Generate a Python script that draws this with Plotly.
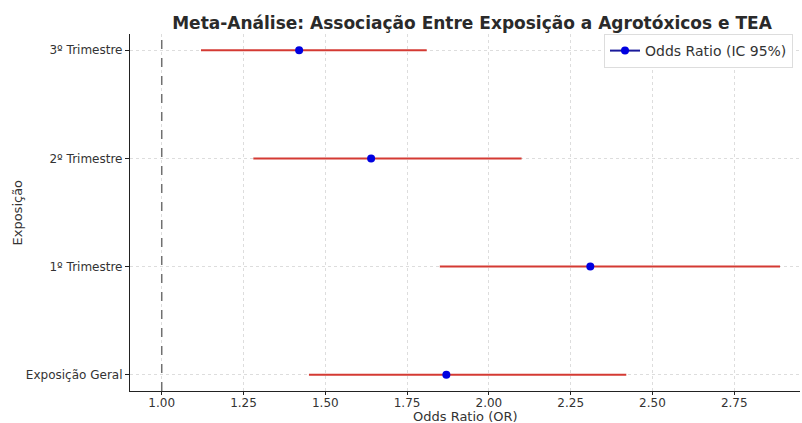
import plotly.graph_objects as go

categories = ["Exposição Geral", "1º Trimestre", "2º Trimestre", "3º Trimestre"]
odds_ratio = [1.87, 2.31, 1.64, 1.42]
ci_lower = [1.45, 1.85, 1.28, 1.12]
ci_upper = [2.42, 2.89, 2.10, 1.81]
x_ticks = [1.00, 1.25, 1.50, 1.75, 2.00, 2.25, 2.50, 2.75]

err_plus = [u - o for u, o in zip(ci_upper, odds_ratio)]
err_minus = [o - l for o, l in zip(odds_ratio, ci_lower)]
ypos = list(range(len(categories)))

fig = go.Figure()
fig.add_trace(go.Scatter(
    x=odds_ratio, y=ypos, mode="markers",
    name="Odds Ratio (IC 95%)", showlegend=False,
    marker=dict(color="#0000e0", size=8),
    error_x=dict(type="data", symmetric=False, array=err_plus, arrayminus=err_minus,
                 color="#d43a33", thickness=2, width=0),
))
# legend handle (line + dot, as in an errorbar legend)
fig.add_trace(go.Scatter(
    x=[None], y=[None], mode="lines+markers",
    name="Odds Ratio (IC 95%)", showlegend=True,
    marker=dict(color="#0000e0", size=8),
    line=dict(color="#1a1a9a", width=2),
))

fig.add_vline(x=1.0, line=dict(color="#707070", width=1.5, dash="dash"))

fig.update_layout(
    width=802, height=423,
    margin=dict(l=130, r=2, t=34, b=32, autoexpand=False),
    paper_bgcolor="white", plot_bgcolor="white",
    font=dict(family="DejaVu Sans", color="#333333", size=12),
    title=dict(text="<b>Meta-Análise: Associação Entre Exposição a Agrotóxicos e TEA</b>",
               x=472 / 802, xanchor="center", xref="container", yref="container",
               y=1 - 23 / 423, yanchor="middle",
               font=dict(size=17, color="#2a2a2a")),
    xaxis=dict(range=[0.903, 2.951], tickvals=x_ticks,
               ticktext=[f"{v:.2f}" for v in x_ticks],
               showgrid=True, gridcolor="#dddddd", griddash="dot", gridwidth=1,
               showline=True, linecolor="#222222", linewidth=1.2,
               ticks="outside", ticklen=3, tickcolor="#222222",
               ticklabelstandoff=-3,
               zeroline=False, automargin=False),
    yaxis=dict(range=[-0.15, 3.15], tickvals=ypos, ticktext=categories,
               showgrid=True, gridcolor="#dddddd", griddash="dot", gridwidth=1,
               showline=True, linecolor="#222222", linewidth=1.2,
               ticks="outside", ticklen=4, tickcolor="#222222",
               zeroline=False, automargin=False),
    showlegend=True,
    legend=dict(x=(604 - 130) / 670, y=1.0, xanchor="left", yanchor="top",
                bgcolor="white", bordercolor="#dddddd", borderwidth=1,
                itemwidth=30,
                font=dict(size=14, color="#333333")),
    annotations=[
        dict(text="Odds Ratio (OR)", xref="paper", yref="paper",
             x=0.5, y=-(416 - 391) / 357, xanchor="center", yanchor="middle",
             showarrow=False, font=dict(size=13, color="#333333")),
        dict(text="Exposição", xref="paper", yref="paper",
             x=-113 / 670, y=0.5, xanchor="center", yanchor="middle",
             textangle=-90, showarrow=False, font=dict(size=13, color="#333333")),
    ],
)

fig.write_html("out.html", config={"displayModeBar": False},
               post_script="document.body.style.margin='0';document.body.style.overflow='hidden';")
